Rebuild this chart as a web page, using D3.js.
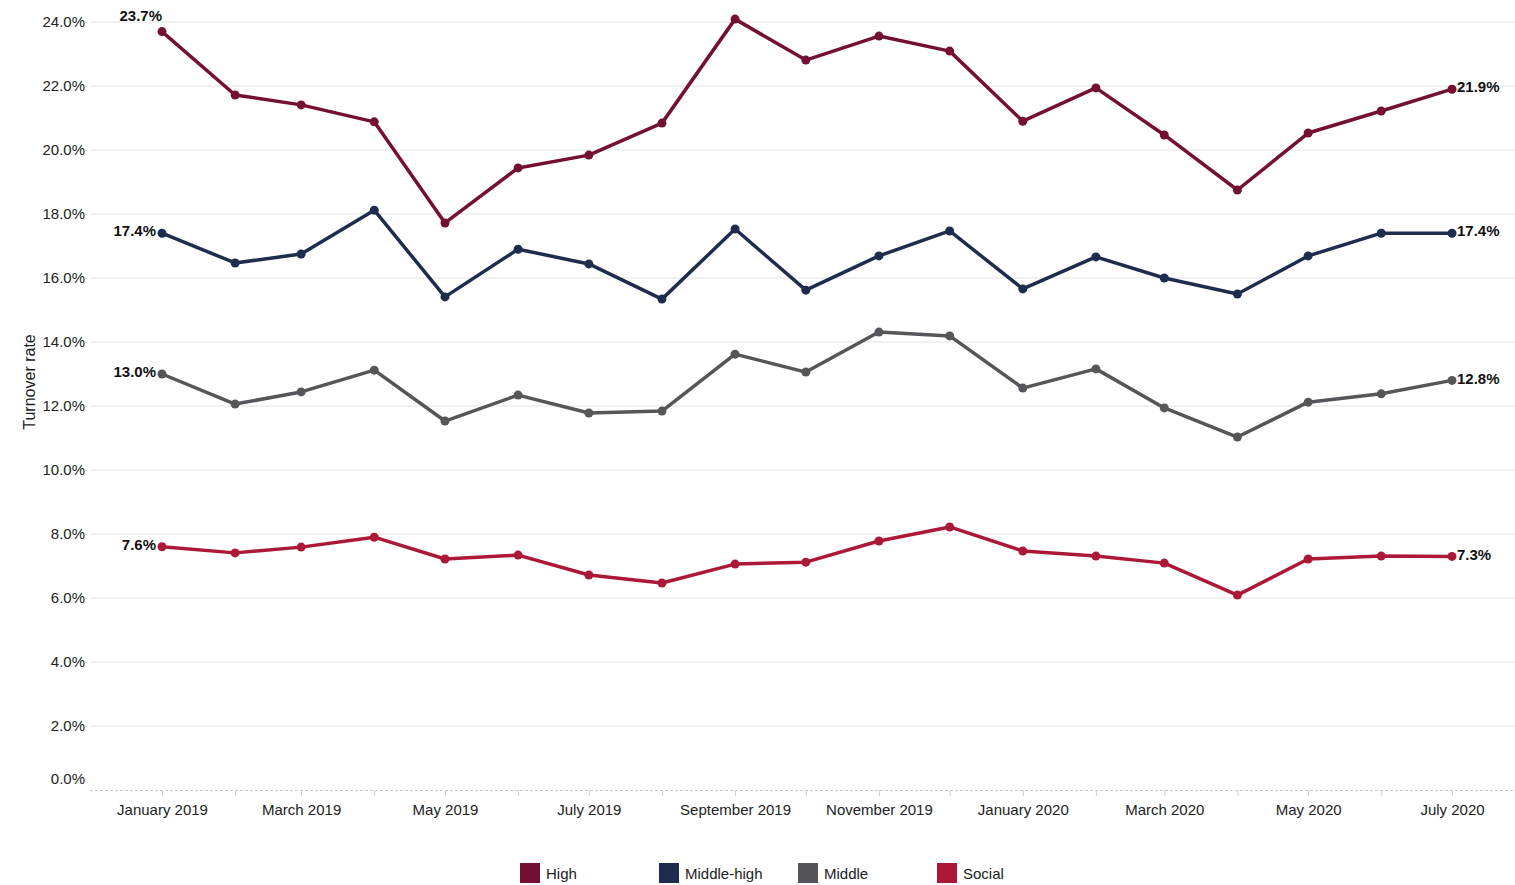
<!DOCTYPE html>
<html>
<head>
<meta charset="utf-8">
<script src="https://cdn.jsdelivr.net/npm/d3@7"></script>
<style>
  html, body { margin: 0; padding: 0; background: #fff; }
  svg { display: block; font-family: "Liberation Sans", Arial, sans-serif; }
</style>
</head>
<body>
<svg id="chart" width="1515" height="885"></svg>
<script>
// Monthly turnover rate by housing segment, Jan 2019 – Jul 2020
const months = ["2019-01","2019-02","2019-03","2019-04","2019-05","2019-06","2019-07","2019-08","2019-09",
  "2019-10","2019-11","2019-12","2020-01","2020-02","2020-03","2020-04","2020-05","2020-06","2020-07"];
const high =       [23.7,21.72,21.41,20.88,17.72,19.44,19.84,20.84,24.09,22.81,23.56,23.09,20.9,21.94,20.47,18.75,20.53,21.22,21.9];
const middleHigh = [17.4,16.47,16.75,18.12,15.41,16.9,16.44,15.34,17.53,15.62,16.69,17.47,15.66,16.66,16.0,15.5,16.69,17.4,17.4];
const middle =     [13.0,12.06,12.44,13.12,11.53,12.34,11.78,11.84,13.62,13.06,14.31,14.19,12.56,13.16,11.94,11.03,12.12,12.38,12.8];
const social =     [7.6,7.41,7.59,7.9,7.22,7.34,6.72,6.47,7.06,7.12,7.78,8.22,7.47,7.31,7.09,6.09,7.22,7.31,7.3];
const seriesNames = ["High","Middle-high","Middle","Social"];
const seriesColors = ["#731034","#1e2d4e","#55555a","#ab1838"];
const yTicks = [0,2,4,6,8,10,12,14,16,18,20,22,24];
const xLabelMonths = ["2019-01","2019-03","2019-05","2019-07","2019-09","2019-11","2020-01","2020-03","2020-05","2020-07"];

const parse = d3.utcParse("%Y-%m");
const dates = months.map(parse);
const series = [high, middleHigh, middle, social].map((vals, i) => ({
  name: seriesNames[i], color: seriesColors[i],
  points: vals.map((v, j) => ({ date: dates[j], value: v }))
}));

const svg = d3.select("#chart");
const plotLeft = 90, plotRight = 1515;

const x = d3.scaleUtc().domain([dates[0], dates[dates.length - 1]]).range([162, 1452]);
const y = d3.scaleLinear().domain([0, 24]).range([790, 22]);

// Horizontal gridlines
svg.append("g").selectAll("line")
  .data(yTicks.filter(t => t > 0))
  .join("line")
  .attr("x1", plotLeft).attr("x2", plotRight)
  .attr("y1", d => y(d)).attr("y2", d => y(d))
  .attr("stroke", "#e3e3e3").attr("stroke-width", 1);

// Y tick labels
svg.append("g").selectAll("text")
  .data(yTicks)
  .join("text")
  .attr("x", 85)
  .attr("y", d => d === 0 ? y(d) - 11 : y(d))
  .attr("dy", "0.35em")
  .attr("text-anchor", "end")
  .attr("font-size", 15)
  .attr("fill", "#222")
  .text(d => d.toFixed(1) + "%");

// Y axis title
svg.append("text")
  .attr("transform", "translate(35,382) rotate(-90)")
  .attr("text-anchor", "middle")
  .attr("font-size", 16)
  .attr("fill", "#222")
  .text("Turnover rate");

// X axis baseline (dashed) and monthly ticks
svg.append("line")
  .attr("x1", plotLeft).attr("x2", plotRight)
  .attr("y1", 790.5).attr("y2", 790.5)
  .attr("stroke", "#c8c8c8").attr("stroke-dasharray", "3,2");

const xAxis = d3.axisBottom(x)
  .tickValues(dates)
  .tickSize(6)
  .tickFormat(d => xLabelMonths.includes(d3.utcFormat("%Y-%m")(d)) ? d3.utcFormat("%B %Y")(d) : "");

const gx = svg.append("g").attr("transform", "translate(0,790)").call(xAxis);
gx.select(".domain").remove();
gx.selectAll(".tick line").attr("stroke", "#cfcfcf");
gx.selectAll(".tick text")
  .attr("font-size", 15).attr("fill", "#222")
  .attr("font-family", "Liberation Sans, Arial, sans-serif")
  .attr("y", 14);

// Lines and points
const line = d3.line().x(d => x(d.date)).y(d => y(d.value));
const g = svg.append("g");
series.forEach(s => {
  g.append("path")
    .datum(s.points)
    .attr("fill", "none")
    .attr("stroke", s.color)
    .attr("stroke-width", 3.5)
    .attr("stroke-linejoin", "round")
    .attr("d", line);
  g.selectAll(null)
    .data(s.points)
    .join("circle")
    .attr("cx", d => x(d.date)).attr("cy", d => y(d.value))
    .attr("r", 4.5)
    .attr("fill", s.color);
});

// Start and end value labels
const fmt = v => v.toFixed(1) + "%";
series.forEach((s, i) => {
  const first = s.points[0], last = s.points[s.points.length - 1];
  const above = i === 0;
  svg.append("text")
    .attr("x", above ? x(first.date) : x(first.date) - 6)
    .attr("y", above ? y(first.value) - 16 : y(first.value) - 2)
    .attr("dy", "0.35em")
    .attr("text-anchor", "end")
    .attr("font-size", 15).attr("font-weight", "bold").attr("fill", "#111")
    .text(fmt(first.value));
  svg.append("text")
    .attr("x", x(last.date) + 5)
    .attr("y", y(last.value) - 2)
    .attr("dy", "0.35em")
    .attr("text-anchor", "start")
    .attr("font-size", 15).attr("font-weight", "bold").attr("fill", "#111")
    .text(fmt(last.value));
});

// Legend
const legendX = [520, 659, 798, 937];
const lg = svg.append("g").selectAll("g")
  .data(series)
  .join("g")
  .attr("transform", (d, i) => `translate(${legendX[i]},863)`);
lg.append("rect").attr("width", 20).attr("height", 20).attr("fill", d => d.color);
lg.append("text")
  .attr("x", 26).attr("y", 11).attr("dy", "0.35em")
  .attr("font-size", 15).attr("fill", "#222")
  .text(d => d.name);
</script>
</body>
</html>
